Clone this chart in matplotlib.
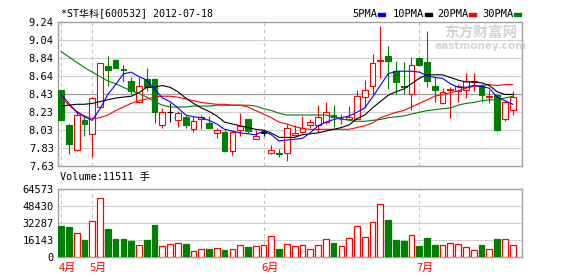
import numpy as np
import matplotlib
matplotlib.use('Agg')
import matplotlib.pyplot as plt
from matplotlib.patches import Rectangle
from matplotlib.transforms import blended_transform_factory

# *ST华科 600532 daily k-line, 2012-04 .. 2012-07-18
opens = [8.48, 8.09, 7.81, 8.14, 7.99, 8.29, 8.75, 8.82, 8.72, 8.58,
         8.35, 8.60, 8.60, 8.09, 8.23, 8.14, 8.18, 8.04, 8.15, 8.11,
         8.00, 8.01, 7.80, 8.03, 8.15, 7.93, 8.00, 7.77, 7.78, 7.78,
         7.98, 8.01, 8.09, 8.09, 8.12, 8.20, 8.15, 8.15, 8.16, 8.40,
         8.53, 8.80, 8.86, 8.69, 8.53, 8.43, 8.84, 8.79, 8.52, 8.33,
         8.48, 8.47, 8.48, 8.57, 8.52, 8.40, 8.42, 8.16, 8.26]
highs = [8.48, 8.10, 8.25, 8.20, 8.40, 8.78, 8.86, 8.83, 8.76, 8.62,
         8.63, 8.73, 8.61, 8.28, 8.33, 8.25, 8.20, 8.18, 8.20, 8.19,
         8.06, 8.03, 8.01, 8.22, 8.15, 8.03, 8.04, 7.86, 7.82, 8.10,
         8.09, 8.19, 8.15, 8.31, 8.34, 8.31, 8.21, 8.30, 8.48, 8.59,
         8.88, 9.20, 8.97, 8.80, 8.79, 8.85, 8.85, 9.14, 8.63, 8.50,
         8.51, 8.55, 8.67, 8.67, 8.55, 8.48, 8.43, 8.36, 8.47]
lows = [8.14, 7.76, 7.80, 7.96, 7.73, 8.28, 8.52, 8.73, 8.57, 8.43,
        8.35, 8.47, 8.11, 8.06, 8.12, 8.07, 8.06, 8.01, 8.04, 8.05,
        7.94, 7.79, 7.75, 7.97, 8.00, 7.93, 7.96, 7.76, 7.73, 7.69,
        7.97, 8.00, 8.06, 8.01, 8.10, 8.07, 8.10, 8.14, 8.15, 8.28,
        8.44, 8.61, 8.49, 8.43, 8.43, 8.26, 8.75, 8.51, 8.35, 8.32,
        8.17, 8.35, 8.39, 8.47, 8.35, 8.33, 8.02, 8.13, 8.20]
closes = [8.14, 7.88, 8.20, 8.10, 8.39, 8.78, 8.70, 8.73, 8.70, 8.47,
          8.53, 8.51, 8.23, 8.23, 8.23, 8.22, 8.09, 8.13, 8.18, 8.06,
          8.03, 7.80, 8.01, 8.08, 8.02, 7.97, 8.00, 7.81, 7.76, 8.06,
          8.00, 8.06, 8.12, 8.18, 8.23, 8.18, 8.16, 8.18, 8.41, 8.48,
          8.78, 8.81, 8.80, 8.57, 8.51, 8.76, 8.76, 8.58, 8.48, 8.46,
          8.49, 8.52, 8.58, 8.58, 8.42, 8.41, 8.03, 8.35, 8.40]
volumes = [29750, 28800, 23100, 15800, 34200, 56000, 26900, 17400, 17400, 14900,
           11400, 16500, 30700, 10400, 12300, 13300, 12700, 6000, 7600, 7900,
           8500, 7000, 7600, 11400, 9500, 10400, 11400, 19900, 7900, 12300,
           10400, 11400, 7600, 11400, 17100, 13600, 10400, 18000, 29400, 19000,
           33200, 50600, 35400, 16500, 15500, 20900, 10800, 18400, 11700, 11400,
           13300, 12300, 9500, 7000, 11700, 7600, 17400, 17100, 11511]

ma5 = [8.43, 8.33, 8.23, 8.18, 8.14, 8.27, 8.43, 8.54, 8.66, 8.68,
       8.63, 8.59, 8.49, 8.39, 8.35, 8.28, 8.20, 8.18, 8.17, 8.14,
       8.10, 8.04, 8.02, 8.00, 7.99, 7.98, 8.02, 7.98, 7.91, 7.92,
       7.93, 7.94, 8.00, 8.08, 8.12, 8.15, 8.17, 8.19, 8.23, 8.28,
       8.40, 8.53, 8.66, 8.69, 8.69, 8.69, 8.68, 8.64, 8.62, 8.61,
       8.55, 8.51, 8.51, 8.53, 8.52, 8.50, 8.40, 8.36, 8.32]
ma10 = [8.30, 8.31, 8.32, 8.32, 8.33, 8.35, 8.37, 8.39, 8.40, 8.41,
        8.45, 8.51, 8.51, 8.53, 8.51, 8.46, 8.39, 8.33, 8.28, 8.24,
        8.19, 8.12, 8.10, 8.08, 8.06, 8.04, 8.03, 8.00, 7.95, 7.95,
        7.95, 7.98, 7.99, 8.00, 8.02, 8.04, 8.06, 8.09, 8.16, 8.20,
        8.28, 8.35, 8.42, 8.46, 8.49, 8.55, 8.61, 8.65, 8.65, 8.65,
        8.62, 8.59, 8.57, 8.57, 8.56, 8.53, 8.46, 8.43, 8.43]
ma20 = [8.40, 8.31, 8.24, 8.19, 8.16, 8.17, 8.20, 8.25, 8.29, 8.33,
        8.36, 8.38, 8.40, 8.41, 8.41, 8.40, 8.38, 8.36, 8.34, 8.33,
        8.32, 8.32, 8.31, 8.31, 8.29, 8.25, 8.21, 8.17, 8.12, 8.10,
        8.07, 8.05, 8.04, 8.04, 8.04, 8.04, 8.04, 8.04, 8.06, 8.08,
        8.11, 8.17, 8.20, 8.23, 8.25, 8.29, 8.33, 8.37, 8.41, 8.43,
        8.45, 8.47, 8.50, 8.52, 8.53, 8.54, 8.53, 8.54, 8.54]
ma30 = [8.91, 8.85, 8.79, 8.73, 8.68, 8.63, 8.58, 8.55, 8.51, 8.47,
        8.44, 8.40, 8.35, 8.31, 8.29, 8.29, 8.29, 8.30, 8.30, 8.30,
        8.31, 8.31, 8.31, 8.31, 8.31, 8.30, 8.27, 8.25, 8.22, 8.20,
        8.20, 8.20, 8.20, 8.20, 8.20, 8.18, 8.16, 8.14, 8.13, 8.13,
        8.14, 8.15, 8.17, 8.18, 8.19, 8.21, 8.23, 8.25, 8.26, 8.27,
        8.28, 8.31, 8.33, 8.34, 8.36, 8.37, 8.37, 8.39, 8.41]

month_pos = [0, 4, 26, 46]
month_labels = ['4月', '5月', '6月', '7月']
price_ticks = [7.63, 7.83, 8.03, 8.23, 8.43, 8.64, 8.84, 9.04, 9.24]
vol_ticks = [0, 16143, 32287, 48430, 64573]
ma_names = ['5PMA', '10PMA', '20PMA', '30PMA']
ma_colors = ['#0000ff', '#000000', '#ff0000', '#008000']

RED = '#ff0000'
GREEN = '#008000'
BORDER = '#a0a0a0'
GRID = '#d0d0d0'
MONO = ['DejaVu Sans Mono', 'Noto Sans CJK SC']

W, H = 578, 276
fig = plt.figure(figsize=(W / 100, H / 100), dpi=100)
fig.patch.set_facecolor('white')

def box(l, t, r, b):
    return [l / W, 1 - b / H, (r - l) / W, (b - t) / H]

ax = fig.add_axes(box(58, 22, 522, 166))
ax2 = fig.add_axes(box(58, 189, 522, 257))

x = np.arange(len(closes))
o = np.array(opens); c = np.array(closes)
hi = np.array(highs); lo = np.array(lows)

cc = np.where(c > o, RED, np.where(c < o, GREEN, '#000000'))
face = np.where(c > o, 'white', cc)

for a in (ax, ax2):
    # one bar slot is ~7.8 px, first candle sits 3 px right of the frame
    a.set_xlim(-0.4, len(closes) + 0.2)
    for s in a.spines.values():
        s.set_color(BORDER)
        s.set_linewidth(1.0)
    a.tick_params(length=0, pad=3, labelsize=7.5)
    a.set_xticks([])
    for p in month_pos:
        a.axvline(p, color='#c4c4c4', lw=0.8, ls=(0, (3, 3)), zorder=1)

# price panel
ax.set_ylim(price_ticks[0], price_ticks[-1])
ax.set_yticks(price_ticks)
ax.set_yticklabels(['%.2f' % v for v in price_ticks], family=MONO, fontsize=7.5)
for v in price_ticks[1:-1]:
    ax.axhline(v, color=GRID, lw=0.8, zorder=0)
ax.axhline(price_ticks[4], color=BORDER, lw=0.9, zorder=0)

ax.vlines(x, lo, hi, colors=cc, lw=0.8, zorder=2)
body_h = np.maximum(np.abs(c - o), 0.006)
ax.bar(x, body_h, bottom=np.minimum(o, c), width=0.74, color=face,
       edgecolor=cc, linewidth=0.8, zorder=3)

for ma, col, z in zip([ma30, ma20, ma10, ma5], ma_colors[::-1], [4, 5, 6, 7]):
    ax.plot(x, ma, color=col, lw=0.8, zorder=z)

# volume panel
ax2.set_ylim(0, vol_ticks[-1])
ax2.set_yticks(vol_ticks)
ax2.set_yticklabels([str(v) for v in vol_ticks], family=MONO, fontsize=7.5)
for v in vol_ticks[1:-1]:
    ax2.axhline(v, color=GRID, lw=0.8, zorder=0)
vcol = np.where(c >= o, RED, GREEN)
vface = np.where(c >= o, 'white', GREEN)
ax2.bar(x, volumes, width=0.74, color=vface, edgecolor=vcol, linewidth=0.9, zorder=3)

tr = blended_transform_factory(ax2.transData, ax2.transAxes)
for p, lab in zip(month_pos, month_labels):
    ax2.text(p - 0.3, -0.08, lab, transform=tr, ha='left', va='top', color=RED,
             fontsize=8, family=['Noto Sans CJK SC', 'DejaVu Sans'])

# texts
fig.text(61 / W, 1 - 14 / H, '*ST华科[600532] 2012-07-18', ha='left', va='center',
         fontsize=7.2, family=MONO)
fig.text(60 / W, 1 - 177 / H, 'Volume:%d 手' % volumes[-1], ha='left', va='center',
         fontsize=7.4, family=MONO)

leg_x = [352, 393, 437, 482]
for lx, name, col in zip(leg_x, ma_names, ma_colors):
    fig.text(lx / W, 1 - 14 / H, name, ha='left', va='center', fontsize=7.5,
             family=MONO)
    tw = len(name) * 5.9
    fig.patches.append(Rectangle(((lx + tw + 2) / W, 1 - 16 / H), 7 / W, 3 / H,
                                 transform=fig.transFigure, color=col))

# watermark
fig.text(481 / W, 1 - 33 / H, '东方财富网', ha='center', va='center', fontsize=10.5,
         color='#d4d4d4', weight='bold', family=['Noto Sans CJK SC'])
fig.text(481 / W, 1 - 46 / H, 'eastmoney.com', ha='center', va='center', fontsize=7.5,
         color='#d4d4d4', weight='bold', family=['DejaVu Sans'])

fig.savefig('out.png', dpi=100, facecolor='white')
